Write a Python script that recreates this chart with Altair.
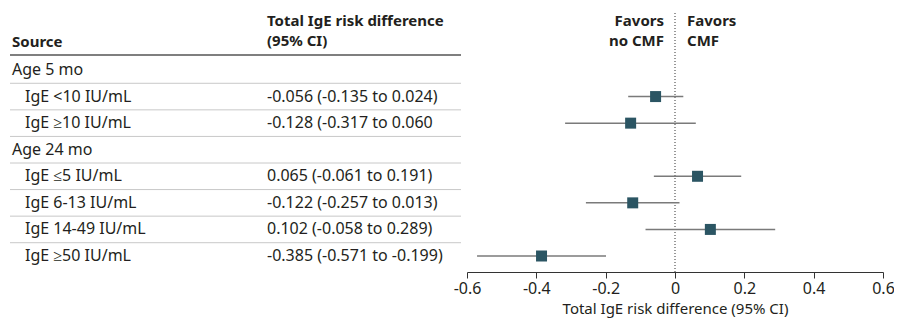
import altair as alt
import pandas as pd

# ---- data ----
labels = ["Age 5 mo", "IgE <10 IU/mL", "IgE ≥10 IU/mL", "Age 24 mo",
          "IgE ≤5 IU/mL", "IgE 6-13 IU/mL", "IgE 14-49 IU/mL", "IgE ≥50 IU/mL"]
is_group = [True, False, False, True, False, False, False, False]
ci_text = ["", "-0.056 (-0.135 to 0.024)", "-0.128 (-0.317 to 0.060",
           "", "0.065 (-0.061 to 0.191)", "-0.122 (-0.257 to 0.013)",
           "0.102 (-0.058 to 0.289)", "-0.385 (-0.571 to -0.199)"]
estimate = [None, -0.056, -0.128, None, 0.065, -0.122, 0.102, -0.385]
lower = [None, -0.135, -0.317, None, -0.061, -0.257, -0.085, -0.571]
upper = [None, 0.024, 0.060, None, 0.191, 0.013, 0.289, -0.199]
separators = [0.5, 1.5, 2.5, 3.5, 4.5, 5.5, 6.5]
x_ticks = [-0.6, -0.4, -0.2, 0, 0.2, 0.4, 0.6]

col1_header = "Source"
col2_header = ["Total IgE risk difference", "(95% CI)"]
favors_left = ["Favors", "no CMF"]
favors_right = ["Favors", "CMF"]
axis_title = "Total IgE risk difference (95% CI)"

FONT = "Noto Sans"
TXT = "#231f20"
FS = 16
FSB = 15

df = pd.DataFrame({
    "row": list(range(len(labels))),
    "label": labels,
    "group": is_group,
    "ci": ci_text,
    "est": estimate,
    "lo": lower,
    "hi": upper,
})
pts = df.dropna(subset=["est"])
sep_df = pd.DataFrame({"row": separators})

xs = alt.Scale(domain=[-0.6, 0.6], range=[459, 875], nice=False, zero=False)
ys = alt.Scale(domain=[0, 7], range=[62, 248], nice=False, zero=False)

base = alt.Chart(df)

group_lbl = base.transform_filter("datum.group").mark_text(
    align="left", baseline="middle", font=FONT, fontSize=FS, color=TXT
).encode(x=alt.value(4), y=alt.Y("row:Q", scale=ys, axis=None), text="label:N")

sub_lbl = base.transform_filter("!datum.group").mark_text(
    align="left", baseline="middle", font=FONT, fontSize=FS, color=TXT
).encode(x=alt.value(17), y=alt.Y("row:Q", scale=ys, axis=None), text="label:N")

ci_lbl = base.transform_filter("datum.ci != ''").mark_text(
    align="left", baseline="middle", font=FONT, fontSize=FS, color=TXT
).encode(x=alt.value(259), y=alt.Y("row:Q", scale=ys, axis=None), text="ci:N")

seps = alt.Chart(sep_df).mark_rule(color="#c8c8c8", strokeWidth=1).encode(
    y=alt.Y("row:Q", scale=ys, axis=None), x=alt.value(2), x2=alt.value(453)
)
header_line = alt.Chart(sep_df.head(1)).mark_rule(color="#555555", strokeWidth=1.5).encode(
    y=alt.value(47), x=alt.value(2), x2=alt.value(453)
)

hdr = pd.DataFrame({"t": [col1_header]})
src_hdr = alt.Chart(hdr).mark_text(
    align="left", baseline="middle", font=FONT, fontSize=FSB, fontWeight="bold", color=TXT
).encode(x=alt.value(4), y=alt.value(34), text="t:N")

ci_hdr = alt.Chart(pd.DataFrame({"t": col2_header, "yy": [13, 33]})).mark_text(
    align="left", baseline="middle", font=FONT, fontSize=FSB, fontWeight="bold", color=TXT
).encode(x=alt.value(259), y=alt.Y("yy:Q", scale=None), text="t:N")

fav_l = alt.Chart(pd.DataFrame({"t": favors_left, "yy": [13, 33]})).mark_text(
    align="right", baseline="middle", font=FONT, fontSize=FSB, fontWeight="bold", color=TXT
).encode(x=alt.value(656), y=alt.Y("yy:Q", scale=None), text="t:N")

fav_r = alt.Chart(pd.DataFrame({"t": favors_right, "yy": [13, 33]})).mark_text(
    align="left", baseline="middle", font=FONT, fontSize=FSB, fontWeight="bold", color=TXT
).encode(x=alt.value(679), y=alt.Y("yy:Q", scale=None), text="t:N")

zero_line = alt.Chart(pd.DataFrame({"v": [0]})).mark_rule(
    color="#333333", strokeWidth=1, strokeDash=[1, 2]
).encode(x=alt.X("v:Q", scale=xs), y=alt.value(5), y2=alt.value(264))

ci_lines = alt.Chart(pts).mark_rule(color="#7a7a7a", strokeWidth=1.5).encode(
    x=alt.X("lo:Q", scale=xs,
            axis=alt.Axis(values=x_ticks, title=axis_title, grid=False, labelFlush=False,
                          labelExpr="datum.value == 0 ? '0' : replace(format(datum.value, '.1f'), '\u2212', '-')",
                          domainColor="#333333", tickColor="#333333", tickSize=6,
                          labelFont=FONT, labelFontSize=FS, labelColor=TXT, labelPadding=2,
                          titleFont=FONT, titleFontSize=15, titleColor=TXT,
                          titleFontWeight="normal", titlePadding=5)),
    x2="hi:Q",
    y=alt.Y("row:Q", scale=ys, axis=None),
)

markers = alt.Chart(pts).mark_point(
    shape="square", filled=True, size=121, color="#2b5563", opacity=1
).encode(x=alt.X("est:Q", scale=xs), y=alt.Y("row:Q", scale=ys, axis=None))

chart = alt.layer(
    seps, header_line, src_hdr, ci_hdr, fav_l, fav_r,
    group_lbl, sub_lbl, ci_lbl, zero_line, ci_lines, markers
).properties(
    width=886, height=264,
    autosize=alt.AutoSizeParams(type="none"),
    padding={"left": 0, "top": 0, "right": 0, "bottom": 47},
).configure_view(stroke=None)

chart.save("out.html", embed_options={"renderer": "svg", "actions": False})
